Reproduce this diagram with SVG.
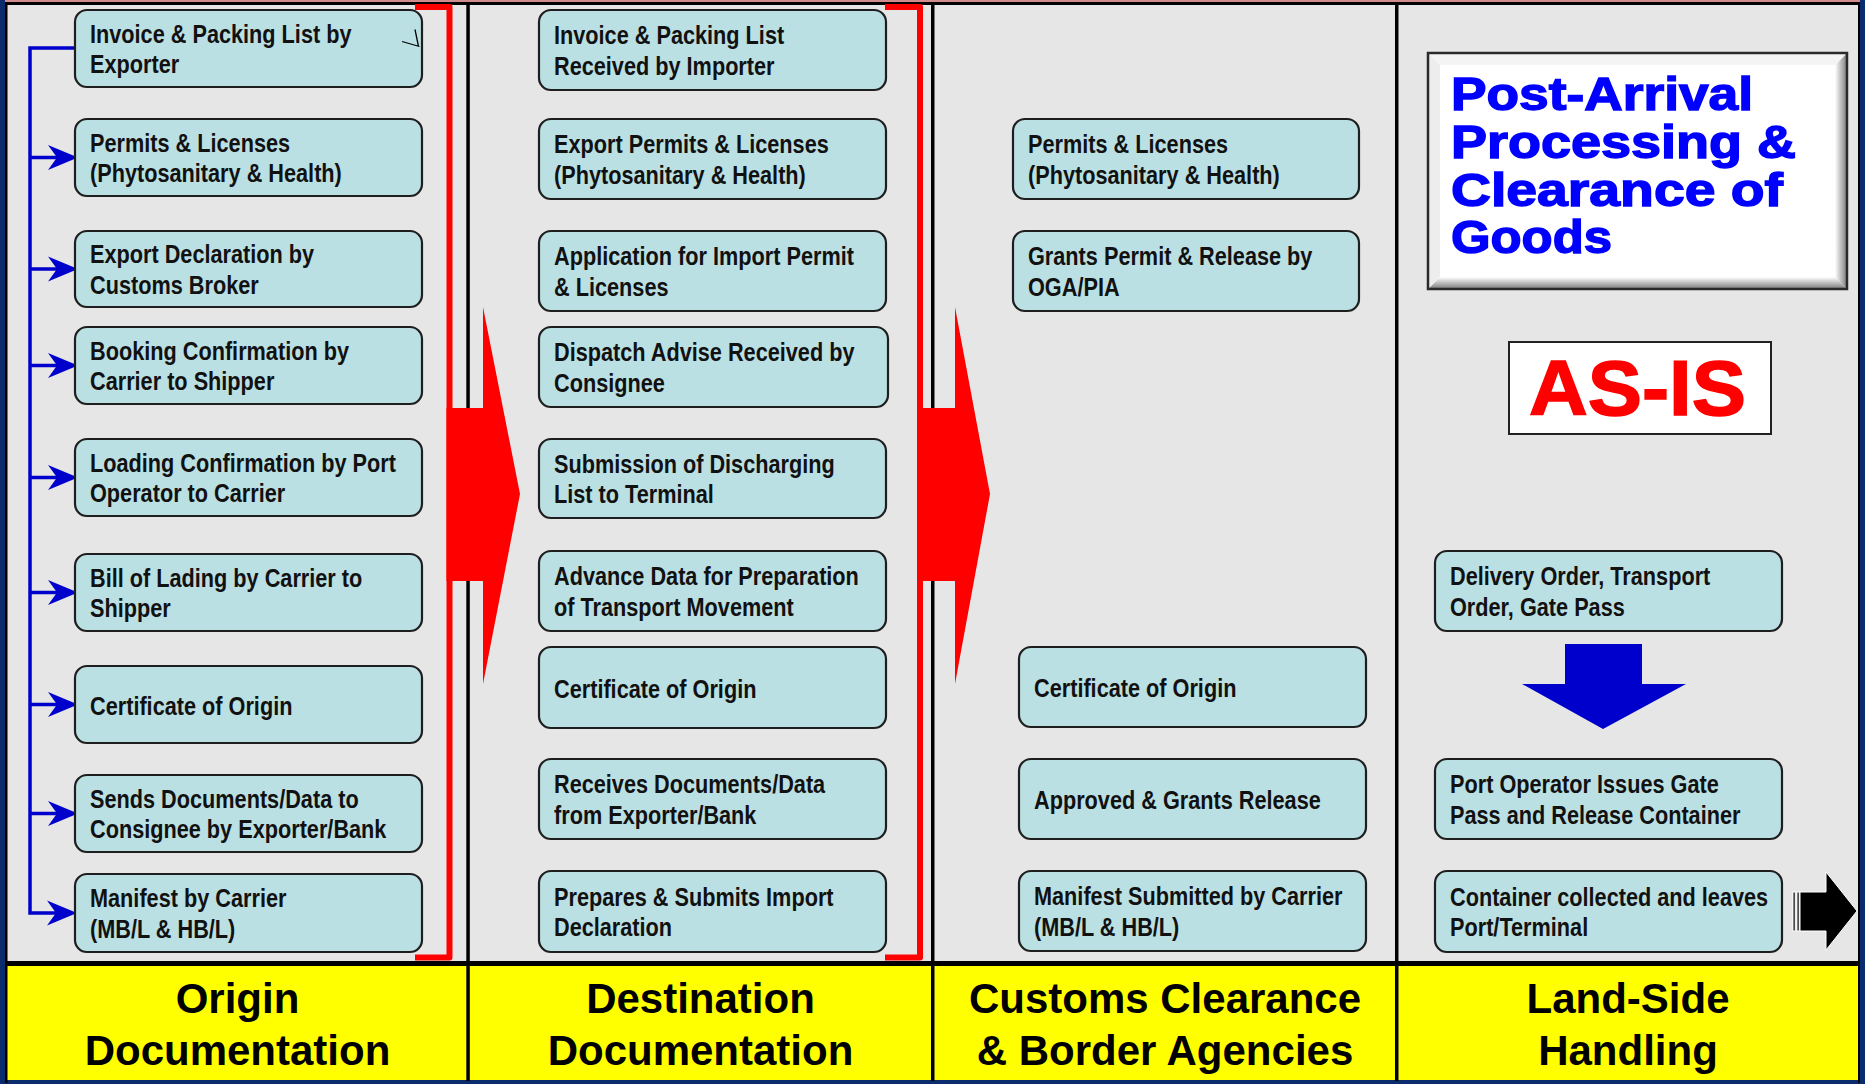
<svg xmlns="http://www.w3.org/2000/svg" width="1865" height="1084" viewBox="0 0 1865 1084">
<defs>
<style>
.bx{fill:#BBE0E3;stroke:#1E1E1E;stroke-width:2.2}
.t{font-family:"Liberation Sans",Arial,sans-serif;font-weight:bold;font-size:25px;fill:#111}
.hd{font-family:"Liberation Sans",Arial,sans-serif;font-weight:bold;font-size:42px;fill:#000;text-anchor:middle}
.div{fill:#000}
.bl{stroke:#0000CC;stroke-width:3.5;fill:none}
.br{stroke:#FF0000;stroke-width:6;fill:none;stroke-linejoin:round}
</style>
<path id="ah" d="M2,0 L-28,-12.5 L-19,0 L-28,12.5 Z" fill="#0000CC"/>
<linearGradient id="gB" x1="0" y1="0" x2="0" y2="1"><stop offset="0" stop-color="#FFFFFF"/><stop offset="1" stop-color="#7A7A7A"/></linearGradient>
<linearGradient id="gR" x1="0" y1="0" x2="1" y2="0"><stop offset="0" stop-color="#FFFFFF"/><stop offset="1" stop-color="#7A7A7A"/></linearGradient>
</defs>

<g id="background">
<rect x="0" y="0" width="1865" height="1084" fill="#E6E6E6"/>
<rect x="0" y="0" width="1865" height="2" fill="#D08C8C"/>
<rect x="0" y="2" width="1865" height="3" fill="#000"/>
<rect x="0" y="965" width="1865" height="116" fill="#FFFF00"/>
<rect x="0" y="961" width="1865" height="5" fill="#000"/>
<rect x="0" y="1080" width="1865" height="4" fill="#0A2C6C"/>
<rect x="0" y="0" width="5" height="1084" fill="#0A2C6C"/>
<rect x="5" y="3" width="2.5" height="1080" fill="#000"/>
<rect x="1858" y="3" width="2" height="1080" fill="#000"/>
<rect x="1860" y="0" width="5" height="1084" fill="#0A2C6C"/>
<rect class="div" x="466.3" y="3" width="3.5" height="1078"/>
<rect class="div" x="931" y="3" width="3.5" height="1078"/>
<rect class="div" x="1395" y="3" width="3.5" height="1078"/>
</g>

<g id="connectors">
<path class="bl" d="M77,48 L30,48 L30,913 L60,913"/>
<path class="bl" d="M30,157.5 H60 M30,269 H60 M30,365.5 H60 M30,477.5 H60 M30,592.5 H60 M30,704.5 H60 M30,813.5 H60"/>
<use href="#ah" transform="translate(76,157.5)"/>
<use href="#ah" transform="translate(76,269)"/>
<use href="#ah" transform="translate(76,365.5)"/>
<use href="#ah" transform="translate(76,477.5)"/>
<use href="#ah" transform="translate(76,592.5)"/>
<use href="#ah" transform="translate(76,704.5)"/>
<use href="#ah" transform="translate(76,813.5)"/>
<use href="#ah" transform="translate(75,913)"/>
<path class="br" d="M415,7 H449.5 V957.5 H415"/>
<path class="br" d="M885,7 H920 V957.5 H885"/>
<polygon points="446.5,408 483,408 483,307 520,494 483,684 483,581 446.5,581" fill="#FF0000"/>
<polygon points="917,408 955,408 955,307 990,494 955,684 955,581 917,581" fill="#FF0000"/>
<polygon points="1565,644 1642,644 1642,684 1686,684 1603,729 1522,684 1565,684" fill="#0000CC"/>
<g stroke="#FFFFFF" stroke-width="1">
<rect x="1793" y="892" width="2.2" height="39" fill="#000"/>
<rect x="1797" y="892" width="2.2" height="39" fill="#000"/>
<polygon points="1800,892 1826,892 1826,872 1857,911 1826,950 1826,931 1800,931" fill="#000"/>
</g>
</g>

<g id="origin">
<g id="o1"><rect class="bx" x="75" y="10" width="347" height="77" rx="12"/>
<path d="M402,41.5 L419.5,46.5 M415,29.5 L418.5,46.5" stroke="#000" stroke-width="1.3" fill="none"/>
<text class="t" transform="translate(90,42.5) scale(0.868,1)"><tspan x="0" y="0">Invoice &amp; Packing List by</tspan><tspan x="0" y="31">Exporter</tspan></text></g>
<g id="o2"><rect class="bx" x="75" y="119" width="347" height="77" rx="12"/>
<text class="t" transform="translate(90,151.5) scale(0.868,1)"><tspan x="0" y="0">Permits &amp; Licenses</tspan><tspan x="0" y="31">(Phytosanitary &amp; Health)</tspan></text></g>
<g id="o3"><rect class="bx" x="75" y="231" width="347" height="76" rx="12"/>
<text class="t" transform="translate(90,263) scale(0.868,1)"><tspan x="0" y="0">Export Declaration by</tspan><tspan x="0" y="31">Customs Broker</tspan></text></g>
<g id="o4"><rect class="bx" x="75" y="327" width="347" height="77" rx="12"/>
<text class="t" transform="translate(90,359.5) scale(0.868,1)"><tspan x="0" y="0">Booking Confirmation by</tspan><tspan x="0" y="31">Carrier to Shipper</tspan></text></g>
<g id="o5"><rect class="bx" x="75" y="439" width="347" height="77" rx="12"/>
<text class="t" transform="translate(90,471.5) scale(0.868,1)"><tspan x="0" y="0">Loading Confirmation by Port</tspan><tspan x="0" y="31">Operator to Carrier</tspan></text></g>
<g id="o6"><rect class="bx" x="75" y="554" width="347" height="77" rx="12"/>
<text class="t" transform="translate(90,586.5) scale(0.868,1)"><tspan x="0" y="0">Bill of Lading by Carrier to</tspan><tspan x="0" y="31">Shipper</tspan></text></g>
<g id="o7"><rect class="bx" x="75" y="666" width="347" height="77" rx="12"/>
<text class="t" transform="translate(90,714.5) scale(0.868,1)"><tspan x="0" y="0">Certificate of Origin</tspan></text></g>
<g id="o8"><rect class="bx" x="75" y="775" width="347" height="77" rx="12"/>
<text class="t" transform="translate(90,807.5) scale(0.868,1)"><tspan x="0" y="0">Sends Documents/Data to</tspan><tspan x="0" y="31">Consignee by Exporter/Bank</tspan></text></g>
<g id="o9"><rect class="bx" x="75" y="874" width="347" height="78" rx="12"/>
<text class="t" transform="translate(90,907) scale(0.868,1)"><tspan x="0" y="0">Manifest by Carrier</tspan><tspan x="0" y="31">(MB/L &amp; HB/L)</tspan></text></g>
</g>

<g id="destination">
<g id="d1"><rect class="bx" x="539" y="10" width="347" height="80" rx="12"/>
<text class="t" transform="translate(554,44) scale(0.868,1)"><tspan x="0" y="0">Invoice &amp; Packing List</tspan><tspan x="0" y="31">Received by Importer</tspan></text></g>
<g id="d2"><rect class="bx" x="539" y="119" width="347" height="80" rx="12"/>
<text class="t" transform="translate(554,153) scale(0.868,1)"><tspan x="0" y="0">Export Permits &amp; Licenses</tspan><tspan x="0" y="31">(Phytosanitary &amp; Health)</tspan></text></g>
<g id="d3"><rect class="bx" x="539" y="231" width="347" height="80" rx="12"/>
<text class="t" transform="translate(554,265) scale(0.868,1)"><tspan x="0" y="0">Application for Import Permit</tspan><tspan x="0" y="31">&amp; Licenses</tspan></text></g>
<g id="d4"><rect class="bx" x="539" y="327" width="349" height="80" rx="12"/>
<text class="t" transform="translate(554,361) scale(0.868,1)"><tspan x="0" y="0">Dispatch Advise Received by</tspan><tspan x="0" y="31">Consignee</tspan></text></g>
<g id="d5"><rect class="bx" x="539" y="439" width="347" height="79" rx="12"/>
<text class="t" transform="translate(554,472.5) scale(0.868,1)"><tspan x="0" y="0">Submission of Discharging</tspan><tspan x="0" y="31">List to Terminal</tspan></text></g>
<g id="d6"><rect class="bx" x="539" y="551" width="347" height="80" rx="12"/>
<text class="t" transform="translate(554,585) scale(0.868,1)"><tspan x="0" y="0">Advance Data for Preparation</tspan><tspan x="0" y="31">of Transport Movement</tspan></text></g>
<g id="d7"><rect class="bx" x="539" y="647" width="347" height="81" rx="12"/>
<text class="t" transform="translate(554,697.5) scale(0.868,1)"><tspan x="0" y="0">Certificate of Origin</tspan></text></g>
<g id="d8"><rect class="bx" x="539" y="759" width="347" height="80" rx="12"/>
<text class="t" transform="translate(554,793) scale(0.868,1)"><tspan x="0" y="0">Receives Documents/Data</tspan><tspan x="0" y="31">from Exporter/Bank</tspan></text></g>
<g id="d9"><rect class="bx" x="539" y="871" width="347" height="81" rx="12"/>
<text class="t" transform="translate(554,905.5) scale(0.868,1)"><tspan x="0" y="0">Prepares &amp; Submits Import</tspan><tspan x="0" y="31">Declaration</tspan></text></g>
</g>

<g id="customs">
<g id="c1"><rect class="bx" x="1013" y="119" width="346" height="80" rx="12"/>
<text class="t" transform="translate(1028,153) scale(0.868,1)"><tspan x="0" y="0">Permits &amp; Licenses</tspan><tspan x="0" y="31">(Phytosanitary &amp; Health)</tspan></text></g>
<g id="c2"><rect class="bx" x="1013" y="231" width="346" height="80" rx="12"/>
<text class="t" transform="translate(1028,265) scale(0.868,1)"><tspan x="0" y="0">Grants Permit &amp; Release by</tspan><tspan x="0" y="31">OGA/PIA</tspan></text></g>
<g id="c3"><rect class="bx" x="1019" y="647" width="347" height="80" rx="12"/>
<text class="t" transform="translate(1034,697) scale(0.868,1)"><tspan x="0" y="0">Certificate of Origin</tspan></text></g>
<g id="c4"><rect class="bx" x="1019" y="759" width="347" height="80" rx="12"/>
<text class="t" transform="translate(1034,809) scale(0.868,1)"><tspan x="0" y="0">Approved &amp; Grants Release</tspan></text></g>
<g id="c5"><rect class="bx" x="1019" y="871" width="347" height="80" rx="12"/>
<text class="t" transform="translate(1034,905) scale(0.868,1)"><tspan x="0" y="0">Manifest Submitted by Carrier</tspan><tspan x="0" y="31">(MB/L &amp; HB/L)</tspan></text></g>
</g>

<g id="landside">
<g id="title">
<rect x="1428" y="53" width="419" height="236" fill="#FFFFFF"/>
<polygon points="1428,289 1847,289 1835,277 1440,277" fill="url(#gB)"/>
<polygon points="1847,53 1847,289 1835,277 1835,65" fill="url(#gR)"/>
<polygon points="1428,53 1847,53 1835,65 1440,65" fill="#F4F4F4"/>
<polygon points="1428,53 1428,289 1440,277 1440,65" fill="#EDEDED"/>
<rect x="1428" y="53" width="419" height="236" fill="none" stroke="#2A2A2A" stroke-width="2.5"/>
<g font-family="'Liberation Sans',Arial,sans-serif" font-weight="bold" font-size="46" fill="#0000FF" stroke="#0000FF" stroke-width="1.4" lengthAdjust="spacingAndGlyphs">
<text x="1451" y="110" textLength="302" lengthAdjust="spacingAndGlyphs">Post-Arrival</text>
<text x="1451" y="158" textLength="345" lengthAdjust="spacingAndGlyphs">Processing &amp;</text>
<text x="1451" y="206" textLength="332" lengthAdjust="spacingAndGlyphs">Clearance of</text>
<text x="1451" y="253" textLength="161" lengthAdjust="spacingAndGlyphs">Goods</text>
</g>
</g>
<g id="asis">
<rect x="1509" y="342" width="262" height="92" fill="#FFFFFF" stroke="#222" stroke-width="2"/>
<text x="1529" y="415" font-family="'Liberation Sans',Arial,sans-serif" font-weight="bold" font-size="78" fill="#FF0000" stroke="#FF0000" stroke-width="1.5" textLength="217" lengthAdjust="spacingAndGlyphs">AS-IS</text>
</g>
<g id="l1"><rect class="bx" x="1435" y="551" width="347" height="80" rx="12"/>
<text class="t" transform="translate(1450,585) scale(0.868,1)"><tspan x="0" y="0">Delivery Order, Transport</tspan><tspan x="0" y="31">Order, Gate Pass</tspan></text></g>
<g id="l2"><rect class="bx" x="1435" y="759" width="347" height="80" rx="12"/>
<text class="t" transform="translate(1450,793) scale(0.868,1)"><tspan x="0" y="0">Port Operator Issues Gate</tspan><tspan x="0" y="31">Pass and Release Container</tspan></text></g>
<g id="l3"><rect class="bx" x="1435" y="871" width="347" height="81" rx="12"/>
<text class="t" transform="translate(1450,905.5) scale(0.868,1)"><tspan x="0" y="0">Container collected and leaves</tspan><tspan x="0" y="31">Port/Terminal</tspan></text></g>
</g>

<g id="headers">
<text class="hd" x="237.5" y="1013">Origin</text>
<text class="hd" x="237.5" y="1065">Documentation</text>
<text class="hd" x="700.5" y="1013">Destination</text>
<text class="hd" x="700.5" y="1065">Documentation</text>
<text class="hd" x="1165" y="1013">Customs Clearance</text>
<text class="hd" x="1165" y="1065">&amp; Border Agencies</text>
<text class="hd" x="1628" y="1013">Land-Side</text>
<text class="hd" x="1628" y="1065">Handling</text>
</g>
</svg>
